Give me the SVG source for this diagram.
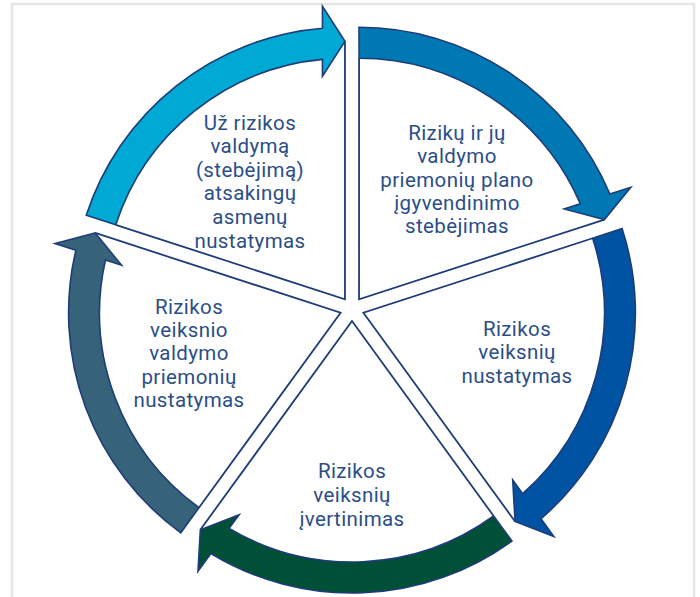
<svg xmlns="http://www.w3.org/2000/svg" xmlns:xlink="http://www.w3.org/1999/xlink" width="700" height="597" viewBox="0 0 700 597">
<style>
.band{stroke:#1E3D78;stroke-width:1.6;stroke-linejoin:miter}
.edge{fill:none;stroke:#1E3D78;stroke-width:1.8;stroke-linejoin:miter}
.lbl{font-family:Roboto,"Liberation Sans",sans-serif;font-size:20.5px;letter-spacing:0.4px;fill:#2B4E87;text-anchor:middle}
</style>
<defs>
<path id="arrow" d="M-229.2,-74.5 L-258.7,-84 A272,272 0 0 1 -22.5,-271.07 L-22.5,-293 L0,-258 L-22.5,-223 L-22.5,-239.95 A241,241 0 0 0 -229.2,-74.5 Z"/>
<path id="wedge" d="M-229.2,-74.5 L0,0 L0,-258"/>
</defs>
<rect x="12" y="4" width="682" height="640" fill="#FFFFFF" stroke="#E6E6E6" stroke-width="2.5"/>
<g id="connectors">
<use xlink:href="#arrow" class="band" fill="#00A9D4" transform="translate(352 309) rotate(0) translate(-7.05 -9.71)"/>
<use xlink:href="#arrow" class="band" fill="#0078B4" transform="translate(352 309) rotate(72) translate(-7.05 -9.71)"/>
<use xlink:href="#arrow" class="band" fill="#0052A3" transform="translate(352 309) rotate(144) translate(-7.05 -9.71)"/>
<use xlink:href="#arrow" class="band" fill="#004F37" transform="translate(352 309) rotate(216) translate(-7.05 -9.71)"/>
<use xlink:href="#arrow" class="band" fill="#36637A" transform="translate(352 309) rotate(288) translate(-7.05 -9.71)"/>
</g>
<g id="node-atsakingu">
<use xlink:href="#wedge" class="edge" transform="translate(352 309) rotate(0) translate(-7.05 -9.71)"/>
<text class="lbl"><tspan x="250" y="129.5">Už rizikos</tspan><tspan x="250" y="153">valdymą</tspan><tspan x="250" y="176.5">(stebėjimą)</tspan><tspan x="250" y="200">atsakingų</tspan><tspan x="250" y="223.5">asmenų</tspan><tspan x="250" y="247.5">nustatymas</tspan></text>
</g>
<g id="node-stebejimas">
<use xlink:href="#wedge" class="edge" transform="translate(352 309) rotate(72) translate(-7.05 -9.71)"/>
<text class="lbl"><tspan x="457" y="140">Rizikų ir jų</tspan><tspan x="457" y="163.3">valdymo</tspan><tspan x="457" y="186.5">priemonių plano</tspan><tspan x="457" y="209.5">įgyvendinimo</tspan><tspan x="457" y="232.7">stebėjimas</tspan></text>
</g>
<g id="node-nustatymas">
<use xlink:href="#wedge" class="edge" transform="translate(352 309) rotate(144) translate(-7.05 -9.71)"/>
<text class="lbl"><tspan x="517" y="336">Rizikos</tspan><tspan x="517" y="359">veiksnių</tspan><tspan x="517" y="382.5">nustatymas</tspan></text>
</g>
<g id="node-ivertinimas">
<use xlink:href="#wedge" class="edge" transform="translate(352 309) rotate(216) translate(-7.05 -9.71)"/>
<text class="lbl"><tspan x="352" y="478">Rizikos</tspan><tspan x="352" y="501.5">veiksnių</tspan><tspan x="352" y="525.5">įvertinimas</tspan></text>
</g>
<g id="node-priemones">
<use xlink:href="#wedge" class="edge" transform="translate(352 309) rotate(288) translate(-7.05 -9.71)"/>
<text class="lbl"><tspan x="189" y="314">Rizikos</tspan><tspan x="189" y="337.2">veiksnio</tspan><tspan x="189" y="360.4">valdymo</tspan><tspan x="189" y="383.6">priemonių</tspan><tspan x="189" y="406.8">nustatymas</tspan></text>
</g>
</svg>
